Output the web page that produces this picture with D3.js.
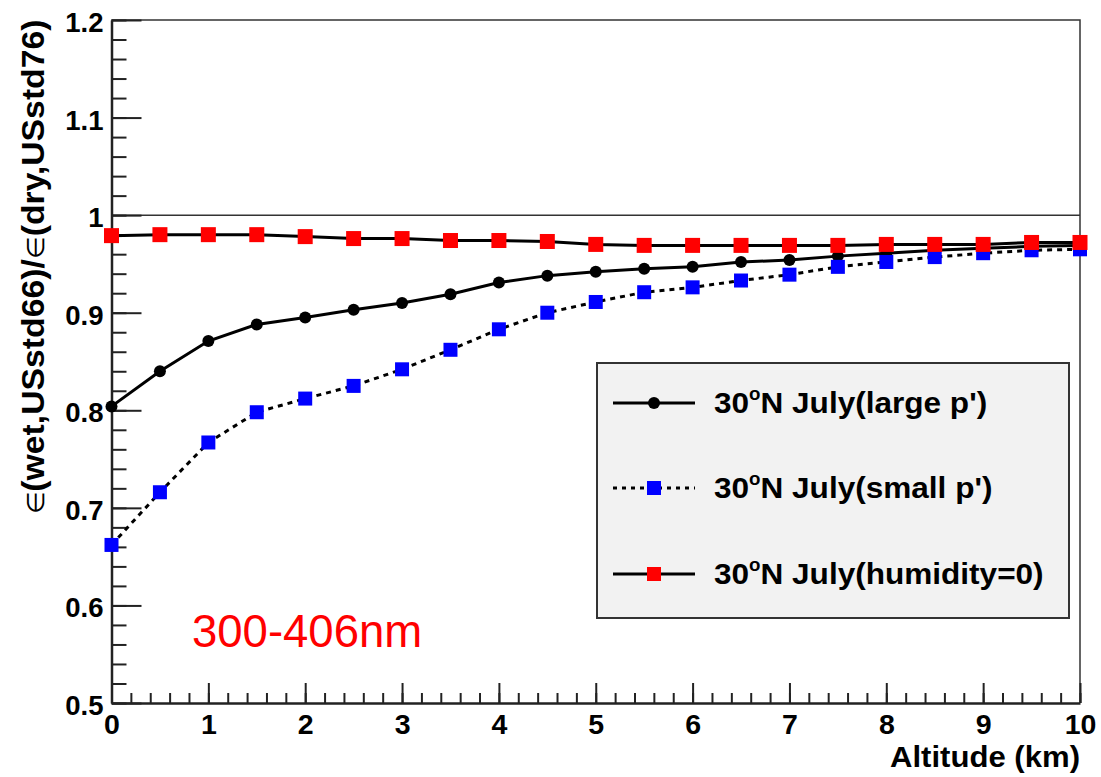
<!DOCTYPE html>
<html>
<head>
<meta charset="utf-8">
<script src="https://cdn.jsdelivr.net/npm/d3@7"></script>
<style>
  html, body { margin: 0; padding: 0; background: #fff; }
  svg { display: block; }
  text { font-family: "Liberation Sans", Arial, Helvetica, sans-serif; }
</style>
</head>
<body>
<div id="chart"></div>
<script>
// Altitude grid (km)
const altitude = [0, 0.5, 1, 1.5, 2, 2.5, 3, 3.5, 4, 4.5, 5, 5.5, 6, 6.5, 7, 7.5, 8, 8.5, 9, 9.5, 10];

// Ratio eps(wet, USstd66) / eps(dry, USstd76), 300-406 nm band
const largeP = [0.804, 0.840, 0.871, 0.888, 0.895, 0.903, 0.910, 0.919, 0.931, 0.938, 0.942,
                0.945, 0.947, 0.952, 0.954, 0.958, 0.961, 0.964, 0.966, 0.968, 0.969];
const smallP = [0.662, 0.716, 0.767, 0.798, 0.812, 0.825, 0.842, 0.862, 0.883, 0.900, 0.911,
                0.921, 0.926, 0.933, 0.939, 0.947, 0.952, 0.957, 0.961, 0.964, 0.965];
const noHumidity = [0.979, 0.980, 0.980, 0.980, 0.978, 0.976, 0.976, 0.974, 0.974, 0.973, 0.970,
                    0.969, 0.969, 0.969, 0.969, 0.969, 0.970, 0.970, 0.970, 0.972, 0.972];

const seriesNames = ["July(large p')", "July(small p')", "July(humidity=0)"];
const xMajorTicks = [0, 1, 2, 3, 4, 5, 6, 7, 8, 9, 10];
const yMajorTicks = [0.5, 0.6, 0.7, 0.8, 0.9, 1.0, 1.1, 1.2];

const W = 1101, H = 777;
const svg = d3.select("#chart").append("svg").attr("width", W).attr("height", H);

const x = d3.scaleLinear().domain([0, 10]).range([111.5, 1080]);
const y = d3.scaleLinear().domain([0.5, 1.2]).range([703, 20]);

const fmtY = v => (v === 1 ? "1" : d3.format(".1f")(v));

// frame: top and right edges
svg.append("path")
  .attr("d", `M${x(0)},${y(1.2)}H${x(10)}V${y(0.5)}`)
  .attr("fill", "none").attr("stroke", "#333").attr("stroke-width", 1.5);

// reference line at ratio = 1
svg.append("line")
  .attr("x1", x(0)).attr("x2", x(10)).attr("y1", y(1)).attr("y2", y(1))
  .attr("stroke", "#333").attr("stroke-width", 1.5);

// y axis: minor then major ticks, pointing into the frame
const yMinor = d3.range(0, 36).map(i => 0.5 + i * 0.02);
svg.append("g").attr("transform", `translate(${x(0)},0)`)
  .call(d3.axisLeft(y).tickValues(yMinor).tickSize(-15).tickSizeOuter(0).tickFormat(""))
  .call(g => g.select(".domain").remove());
const gy = svg.append("g").attr("transform", `translate(${x(0)},0)`)
  .call(d3.axisLeft(y).tickValues(yMajorTicks).tickSize(-30).tickSizeOuter(0).tickPadding(8).tickFormat(fmtY));
gy.selectAll("text").attr("font-size", 27.5).attr("font-weight", "bold").attr("fill", "#000")
  .attr("font-family", "'Liberation Sans', Arial, sans-serif").attr("dy", "0.42em");

// x axis
const xMinor = d3.range(0, 51).map(i => i * 0.2);
svg.append("g").attr("transform", `translate(0,${y(0.5)})`)
  .call(d3.axisBottom(x).tickValues(xMinor).tickSize(-10).tickSizeOuter(0).tickFormat(""))
  .call(g => g.select(".domain").remove());
const gx = svg.append("g").attr("transform", `translate(0,${y(0.5)})`)
  .call(d3.axisBottom(x).tickValues(xMajorTicks).tickSize(-20).tickSizeOuter(0).tickPadding(11).tickFormat(d3.format("d")));
gx.selectAll("text").attr("font-size", 28.5).attr("font-weight", "bold").attr("fill", "#000")
  .attr("font-family", "'Liberation Sans', Arial, sans-serif");

svg.selectAll(".tick line").attr("stroke", "#222").attr("stroke-width", 2);
svg.selectAll(".domain").attr("stroke", "#222").attr("stroke-width", 2.5);

// axis titles
svg.append("text")
  .attr("x", 1080).attr("y", 767)
  .attr("text-anchor", "end")
  .attr("font-size", 29).attr("font-weight", "bold")
  .attr("textLength", 190).attr("lengthAdjust", "spacingAndGlyphs")
  .text("Altitude (km)");

const yTitle = svg.append("text")
  .attr("transform", "translate(44,267) rotate(-90)")
  .attr("text-anchor", "middle")
  .attr("font-size", 31).attr("font-weight", "bold")
  .attr("textLength", 495).attr("lengthAdjust", "spacingAndGlyphs");
yTitle.append("tspan").attr("font-weight", "normal").attr("font-size", 24).text("\u2208");
yTitle.append("tspan").text("(wet,USstd66)/");
yTitle.append("tspan").attr("font-weight", "normal").attr("font-size", 24).text("\u2208");
yTitle.append("tspan").text("(dry,USstd76)");

// band label
svg.append("text")
  .attr("x", 192).attr("y", 647)
  .attr("font-size", 45.5).attr("fill", "#ff0000")
  .text("300-406nm");

// series
const line = d3.line().x((d, i) => x(altitude[i])).y(d => y(d));
const series = [
  { values: largeP, marker: "circle", color: "#000", dash: null },
  { values: smallP, marker: "square", color: "#0000ff", dash: "5,5", size: 14 },
  { values: noHumidity, marker: "square", color: "#ff0000", dash: null, size: 15 }
];

const plot = svg.append("g");
series.forEach(s => {
  const g = plot.append("g");
  g.append("path")
    .attr("d", line(s.values))
    .attr("fill", "none").attr("stroke", "#000").attr("stroke-width", 3)
    .attr("stroke-dasharray", s.dash);
  if (s.marker === "circle") {
    g.selectAll("circle").data(s.values).join("circle")
      .attr("cx", (d, i) => x(altitude[i])).attr("cy", d => y(d))
      .attr("r", 6).attr("fill", s.color);
  } else {
    g.selectAll("rect").data(s.values).join("rect")
      .attr("x", (d, i) => x(altitude[i]) - s.size / 2).attr("y", d => y(d) - s.size / 2)
      .attr("width", s.size).attr("height", s.size).attr("fill", s.color);
  }
});

// legend
const lg = svg.append("g");
lg.append("rect")
  .attr("x", 597).attr("y", 363).attr("width", 472).attr("height", 255)
  .attr("fill", "#f2f2f2").attr("stroke", "#333").attr("stroke-width", 2);

const rowsY = [403, 488, 574];
series.forEach((s, i) => {
  const ry = rowsY[i];
  lg.append("line")
    .attr("x1", 613).attr("x2", 695).attr("y1", ry).attr("y2", ry)
    .attr("stroke", "#000").attr("stroke-width", 3)
    .attr("stroke-dasharray", s.dash ? "4,5" : null);
  if (s.marker === "circle") {
    lg.append("circle").attr("cx", 654).attr("cy", ry).attr("r", 6).attr("fill", s.color);
  } else {
    lg.append("rect").attr("x", 654 - 7).attr("y", ry - 7).attr("width", 14).attr("height", 14)
      .attr("fill", s.color);
  }
  const t = lg.append("text")
    .attr("transform", `translate(714,${ry + 10}) scale(1.07,1)`)
    .attr("font-size", 29.5).attr("font-weight", "bold");
  t.append("tspan").text("30");
  t.append("tspan").attr("font-size", 17.5).attr("dy", -13).text("o");
  t.append("tspan").attr("dy", 13).text("N " + seriesNames[i]);
});
</script>
</body>
</html>
